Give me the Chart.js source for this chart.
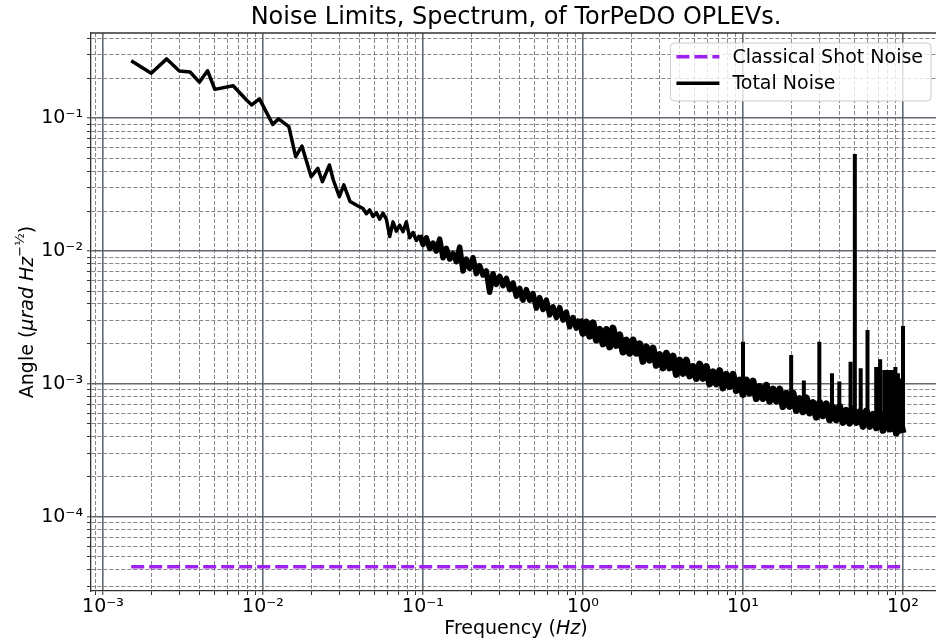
<!DOCTYPE html>
<html>
<head>
<meta charset="utf-8">
<script src="https://cdn.jsdelivr.net/npm/chart.js@4.4.1/dist/chart.umd.min.js"></script>
<style>
html,body{margin:0;padding:0;overflow:hidden;background:#fff;width:936px;height:640px}
canvas{display:block}
</style>
</head>
<body>
<canvas id="c" width="941" height="640" style="width:941px;height:640px"></canvas>
<script>
// ---------------- data ----------------
const titleText = 'Noise Limits, Spectrum, of TorPeDO OPLEVs.';
const seriesNames = ['Classical Shot Noise', 'Total Noise'];

const shotFreq  = [0.0015, 100];
const shotValue = [4.2e-5, 4.2e-5];

// Total noise, low-frequency part (Hz, µrad/√Hz)
const freqLow  = [0.0015,0.002,0.0025,0.003,0.0035,0.004,0.0045,0.005,0.0065,0.008,0.0085,0.0095,0.0115,0.0125,0.0145,0.016,0.0175,0.02,0.022,0.0235,0.026,0.0275,0.03,0.032,0.035,0.04];
const valueLow = [0.271,0.218,0.280,0.227,0.223,0.187,0.228,0.165,0.176,0.135,0.126,0.140,0.090,0.099,0.0865,0.0514,0.0618,0.0363,0.042,0.0333,0.0445,0.0343,0.0257,0.0315,0.0236,0.0216];

// 0.04 - 0.1 Hz
const freqB  = [0.04217,0.04424,0.04642,0.0487,0.05109,0.0536,0.05623,0.059,0.0619,0.06494,0.06813,0.07147,0.07499,0.07867,0.08254,0.0866,0.09085,0.09532];
const valueB = [0.0209,0.0191,0.0204,0.0182,0.0195,0.01738,0.0193,0.01738,0.01288,0.0166,0.01413,0.01567,0.0140,0.0166,0.01259,0.0138,0.01202,0.01318];

// 0.1 - 1 Hz
const freqC  = [0.1,0.1049,0.1101,0.1155,0.1212,0.1271,0.1334,0.1399,0.1468,0.154,0.1616,0.1695,0.1778,0.1866,0.1957,0.2054,0.2154,0.226,0.2371,0.2488,0.261,0.2738,0.2873,0.3014,0.3162,0.3318,0.3481,0.3652,0.3831,0.402,0.4217,0.4424,0.4642,0.487,0.5109,0.536,0.5623,0.59,0.619,0.6494,0.6813,0.7147,0.7499,0.7867,0.8254,0.866,0.9085,0.9532];
const valueC = [0.01122,0.01259,0.01047,0.01148,0.0100,0.0123,0.00891,0.01047,0.00871,0.00955,0.00832,0.01072,0.00708,0.00871,0.00741,0.00891,0.00676,0.00776,0.00661,0.00708,0.0049,0.00676,0.00562,0.00646,0.0055,0.00624,0.00513,0.00575,0.00457,0.00525,0.00427,0.00513,0.00427,0.00479,0.00372,0.00447,0.00363,0.00427,0.00331,0.0038,0.00316,0.00376,0.00302,0.00347,0.00269,0.00316,0.00263,0.00309];

// 1 - 10 Hz
const freqD  = [1,1.049,1.101,1.155,1.212,1.271,1.334,1.399,1.468,1.54,1.616,1.695,1.778,1.866,1.957,2.054,2.154,2.26,2.371,2.488,2.61,2.738,2.873,3.014,3.162,3.318,3.481,3.652,3.831,4.02,4.217,4.424,4.642,4.87,5.109,5.36,5.623,5.9,6.19,6.494,6.813,7.147,7.499,7.867,8.254,8.66,9.085,9.532];
const valueD = [0.0024,0.00292,0.00229,0.00288,0.00214,0.00257,0.002,0.00257,0.0019,0.00263,0.00195,0.00234,0.00174,0.00214,0.0017,0.00214,0.0017,0.002,0.00148,0.0019,0.00151,0.00186,0.00138,0.00166,0.00132,0.0017,0.00132,0.00162,0.00118,0.00151,0.0012,0.00151,0.00115,0.00135,0.0011,0.00141,0.0011,0.00135,0.001,0.00123,0.001,0.00126,0.000933,0.00118,0.000955,0.00118,0.000891,0.00107];

// 10 - 100 Hz
const freqE  = [10,10.49,11.01,11.55,12.12,12.71,13.34,13.99,14.68,15.4,16.16,16.95,17.78,18.66,19.57,20.54,21.54,22.6,23.71,24.88,26.1,27.38,28.73,30.14,31.62,33.18,34.81,36.52,38.31,40.2,42.17,44.24,46.42,48.7,51.09,53.6,56.23,59,61.9,64.94,68.13,71.47,74.99,78.67,82.54,86.6,90.85,95.32,100];
const valueE = [0.000832,0.00107,0.000851,0.00105,0.000776,0.000955,0.000776,0.000977,0.000741,0.000912,0.000741,0.000912,0.000676,0.000851,0.000676,0.000851,0.000631,0.000776,0.000617,0.000785,0.000603,0.000724,0.000562,0.000724,0.000575,0.000708,0.000537,0.000668,0.000537,0.000676,0.000513,0.000631,0.000507,0.000646,0.000513,0.000617,0.000479,0.000624,0.000479,0.000589,0.000468,0.000603,0.000447,0.000569,0.000457,0.000575,0.000427,0.00055,0.000427];

// narrow line features of the total noise (frequency, level at the band, peak level)
const spikeFreq = [10,20,24,30,36,40,47,50,54.4,60,68,72,76.5,80,84.6,89.6,93,96.4,100];
const spikeBase = [0.00095,0.00075,0.0007,0.00064,0.0006,0.00058,0.00056,0.00055,0.00054,0.00052,0.0005,0.0005,0.00049,0.00048,0.00048,0.00047,0.00047,0.00046,0.00046];
const spikeTop  = [0.00208,0.00165,0.00106,0.00208,0.0012,0.00104,0.00147,0.0539,0.00131,0.00255,0.00134,0.00153,0.00127,0.00127,0.00127,0.00134,0.0012,0.0011,0.00273];

const xTickValues = [1e-3, 1e-2, 1e-1, 1, 10, 100];
const xTickLabels = ['10\u207B\u00B3','10\u207B\u00B2','10\u207B\u00B9','10\u2070','10\u00B9','10\u00B2'];
const yTickValues = [1e-4, 1e-3, 1e-2, 1e-1];
const yTickLabels = ['10\u207B\u2074','10\u207B\u00B3','10\u207B\u00B2','10\u207B\u00B9'];
const xRange = [8.41e-4, 172.8];
const yRange = [2.757e-5, 0.4387];

// ---------------- build ----------------
const FONT = "'DejaVu Sans', sans-serif";
const pts = (f, v) => f.map((x, i) => ({ x, y: v[i] }));
const last = a => a[a.length - 1];

// the total-noise trace is drawn in three consecutive pieces (shared end points),
// heavier where the spectrum is dense so that it reads as a solid band
const noiseParts = [
  { data: pts([].concat(freqLow, freqB), [].concat(valueLow, valueB)), width: 3.5 },
  { data: pts([last(freqB)].concat(freqC), [last(valueB)].concat(valueC)), width: 5.5 },
  { data: pts([last(freqC)].concat(freqD, freqE), [last(valueC)].concat(valueD, valueE)), width: 7 }
];
const spikeData = [];
spikeFreq.forEach((f, i) => {
  spikeData.push({ x: f, y: spikeBase[i] }, { x: f, y: spikeTop[i] }, { x: f, y: null });
});

function logTicks(scale) {
  const t = [];
  for (let e = -6; e <= 3; e++) {
    for (let k = 1; k <= 9; k++) {
      const v = +(k * Math.pow(10, e)).toPrecision(6);
      if (v > scale.min * 1.000001 && v < scale.max * 0.999999) t.push({ value: v, major: k === 1 });
    }
  }
  scale.ticks = t;
}
function labelFor(values, labels) {
  return (v, i, ticks) => {
    if (!ticks[i] || !ticks[i].major) return '';
    const j = values.findIndex(t => Math.abs(Math.log10(t) - Math.log10(v)) < 1e-6);
    return j >= 0 ? labels[j] : '';
  };
}
const isMajor = c => c.type === 'tick' && c.tick && c.tick.major;
const gridOpts = {
  color: c => isMajor(c) ? 'rgba(88,98,108,0.95)' : 'rgba(115,115,115,0.85)',
  lineWidth: c => isMajor(c) ? 1.6 : 1,
  tickColor: '#333', tickLength: 4, tickWidth: 1
};
const borderOpts = {
  color: '#333', width: 1.3,
  dash: c => (c.type === 'tick' && c.tick && !c.tick.major) ? [4, 2] : []
};

const frame = {
  id: 'frame',
  afterDraw(chart) {
    const { ctx, chartArea: a } = chart;
    ctx.save();
    ctx.strokeStyle = '#333'; ctx.lineWidth = 1.3;
    ctx.beginPath();
    ctx.moveTo(a.left, a.top); ctx.lineTo(a.right, a.top); ctx.lineTo(a.right, a.bottom);
    ctx.stroke();
    ctx.restore();
  }
};

function pieces(ctx, list) {
  let total = 0;
  list.forEach(p => { ctx.font = p.font; p.w = ctx.measureText(p.text).width; total += p.w; });
  return total;
}
function drawPieces(ctx, list, x0, y0) {
  let x = x0;
  list.forEach(p => { ctx.font = p.font; ctx.fillText(p.text, x, y0 + (p.dy || 0)); x += p.w; });
}

const axisLabels = {
  id: 'axisLabels',
  afterDraw(chart) {
    const { ctx, chartArea: a } = chart;
    ctx.save();
    ctx.fillStyle = '#000';
    ctx.textBaseline = 'alphabetic';
    ctx.textAlign = 'left';
    const nf = '19px ' + FONT, itf = 'italic 19px ' + FONT;
    const xl = [
      { text: 'Frequency (', font: nf },
      { text: 'Hz', font: itf },
      { text: ')', font: nf }
    ];
    const wx = pieces(ctx, xl);
    drawPieces(ctx, xl, (a.left + a.right) / 2 - wx / 2, 634);
    const yl = [
      { text: 'Angle (', font: nf },
      { text: '\u03BCrad Hz', font: itf },
      { text: '\u2212\u00BD', font: '13px ' + FONT, dy: -9 },
      { text: ')', font: nf }
    ];
    const wy = pieces(ctx, yl);
    ctx.translate(33, (a.top + a.bottom) / 2);
    ctx.rotate(-Math.PI / 2);
    drawPieces(ctx, yl, -wy / 2, 0);
    ctx.restore();
  }
};

const mplLegend = {
  id: 'mplLegend',
  afterDatasetsDraw(chart) {
    const { ctx, chartArea: a } = chart;
    const seen = new Set();
    const ds = chart.data.datasets.filter(d => !seen.has(d.label) && seen.add(d.label));
    ctx.save();
    ctx.font = '19px ' + FONT;
    const tw = Math.max(...ds.map(d => ctx.measureText(d.label).width));
    const w = 62 + tw + 8, h = 58;
    const x = a.right - 10 - w, y = a.top + 10;
    ctx.beginPath();
    ctx.roundRect(x, y, w, h, 4);
    ctx.fillStyle = 'rgba(255,255,255,0.8)';
    ctx.fill();
    ctx.strokeStyle = '#cccccc'; ctx.lineWidth = 1;
    ctx.stroke();
    ds.forEach((d, i) => {
      const ry = y + 13.7 + i * 26.6;
      ctx.save();
      ctx.strokeStyle = d.borderColor; ctx.lineWidth = d.borderWidth;
      ctx.setLineDash(d.borderDash || []);
      ctx.beginPath(); ctx.moveTo(x + 6, ry); ctx.lineTo(x + 49, ry); ctx.stroke();
      ctx.restore();
      ctx.fillStyle = '#000'; ctx.textBaseline = 'middle'; ctx.textAlign = 'left';
      ctx.fillText(d.label, x + 62, ry + 1);
    });
    ctx.restore();
  }
};

const datasets = [
  {
    label: seriesNames[0],
    data: pts(shotFreq, shotValue),
    borderColor: '#a020f0', borderWidth: 3.5, borderDash: [13, 5],
    pointRadius: 0, fill: false
  }
];
noiseParts.forEach(p => datasets.push({
  label: seriesNames[1], data: p.data,
  borderColor: '#000000', borderWidth: p.width, borderJoinStyle: 'round',
  pointRadius: 0, fill: false
}));
datasets.push({
  label: seriesNames[1], data: spikeData,
  borderColor: '#000000', borderWidth: 4, spanGaps: false,
  pointRadius: 0, fill: false
});

new Chart(document.getElementById('c'), {
  type: 'line',
  data: { datasets },
  options: {
    responsive: false,
    animation: false,
    devicePixelRatio: 1,
    layout: { padding: 0 },
    plugins: {
      legend: { display: false },
      tooltip: { enabled: false },
      title: {
        display: true, text: titleText, color: '#000', fullSize: false,
        font: { family: FONT, size: 24, weight: 'normal' },
        padding: { top: 3, bottom: 1.2 }
      }
    },
    scales: {
      x: {
        type: 'logarithmic', min: xRange[0], max: xRange[1],
        afterBuildTicks: logTicks,
        afterFit(s) { s.height = 49; },
        grid: gridOpts, border: borderOpts,
        ticks: { callback: labelFor(xTickValues, xTickLabels), autoSkip: false, maxRotation: 0, minRotation: 0,
                 padding: 1, color: '#000', font: { family: FONT, size: 19 } }
      },
      y: {
        type: 'logarithmic', min: yRange[0], max: yRange[1],
        afterBuildTicks: logTicks,
        afterFit(s) { s.width = 91; },
        grid: gridOpts, border: borderOpts,
        ticks: { callback: labelFor(yTickValues, yTickLabels), autoSkip: false,
                 padding: 4, color: '#000', font: { family: FONT, size: 19 } }
      }
    }
  },
  plugins: [frame, mplLegend, axisLabels]
});
</script>
</body>
</html>
